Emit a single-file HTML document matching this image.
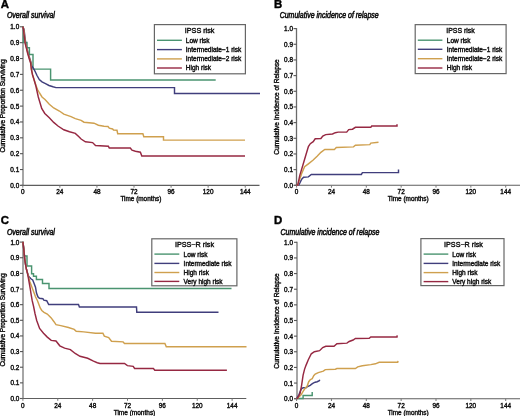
<!DOCTYPE html>
<html><head><meta charset="utf-8"><style>
html,body{margin:0;padding:0;background:#fff;overflow:hidden;}
svg{display:block;font-family:"Liberation Sans", sans-serif;}
#w{will-change:transform;width:520px;height:416px;overflow:hidden;}

</style></head><body>
<div id="w"><svg width="520" height="416" viewBox="0 0 520 416">
<rect width="520" height="416" fill="#fff"/>
<text x="0.7" y="8.1" font-size="11.4" text-anchor="start" font-weight="bold" font-style="normal" fill="#000" stroke="#000" stroke-width="0.4" >A</text>
<text x="6.9" y="18" font-size="8.3" text-anchor="start" font-weight="normal" font-style="italic" fill="#111" stroke="#111" stroke-width="0.55" textLength="48" lengthAdjust="spacingAndGlyphs">Overall survival</text>
<line x1="23.0" y1="26.3" x2="23.0" y2="185.4" stroke="#a6a6a6" stroke-width="2"/>
<line x1="20.0" y1="185.40" x2="23.0" y2="185.40" stroke="#555" stroke-width="1.1"/>
<text x="19.2" y="188" font-size="6.4" text-anchor="end" font-weight="normal" font-style="normal" fill="#111" stroke="#111" stroke-width="0.4" >0.0</text>
<line x1="20.0" y1="169.54" x2="23.0" y2="169.54" stroke="#555" stroke-width="1.1"/>
<text x="19.2" y="172" font-size="6.4" text-anchor="end" font-weight="normal" font-style="normal" fill="#111" stroke="#111" stroke-width="0.4" >0.1</text>
<line x1="20.0" y1="153.68" x2="23.0" y2="153.68" stroke="#555" stroke-width="1.1"/>
<text x="19.2" y="156" font-size="6.4" text-anchor="end" font-weight="normal" font-style="normal" fill="#111" stroke="#111" stroke-width="0.4" >0.2</text>
<line x1="20.0" y1="137.82" x2="23.0" y2="137.82" stroke="#555" stroke-width="1.1"/>
<text x="19.2" y="140" font-size="6.4" text-anchor="end" font-weight="normal" font-style="normal" fill="#111" stroke="#111" stroke-width="0.4" >0.3</text>
<line x1="20.0" y1="121.96" x2="23.0" y2="121.96" stroke="#555" stroke-width="1.1"/>
<text x="19.2" y="124" font-size="6.4" text-anchor="end" font-weight="normal" font-style="normal" fill="#111" stroke="#111" stroke-width="0.4" >0.4</text>
<line x1="20.0" y1="106.10" x2="23.0" y2="106.10" stroke="#555" stroke-width="1.1"/>
<text x="19.2" y="109" font-size="6.4" text-anchor="end" font-weight="normal" font-style="normal" fill="#111" stroke="#111" stroke-width="0.4" >0.5</text>
<line x1="20.0" y1="90.24" x2="23.0" y2="90.24" stroke="#555" stroke-width="1.1"/>
<text x="19.2" y="93" font-size="6.4" text-anchor="end" font-weight="normal" font-style="normal" fill="#111" stroke="#111" stroke-width="0.4" >0.6</text>
<line x1="20.0" y1="74.38" x2="23.0" y2="74.38" stroke="#555" stroke-width="1.1"/>
<text x="19.2" y="77" font-size="6.4" text-anchor="end" font-weight="normal" font-style="normal" fill="#111" stroke="#111" stroke-width="0.4" >0.7</text>
<line x1="20.0" y1="58.52" x2="23.0" y2="58.52" stroke="#555" stroke-width="1.1"/>
<text x="19.2" y="61" font-size="6.4" text-anchor="end" font-weight="normal" font-style="normal" fill="#111" stroke="#111" stroke-width="0.4" >0.8</text>
<line x1="20.0" y1="42.66" x2="23.0" y2="42.66" stroke="#555" stroke-width="1.1"/>
<text x="19.2" y="45" font-size="6.4" text-anchor="end" font-weight="normal" font-style="normal" fill="#111" stroke="#111" stroke-width="0.4" >0.9</text>
<line x1="20.0" y1="26.80" x2="23.0" y2="26.80" stroke="#555" stroke-width="1.1"/>
<text x="19.2" y="29" font-size="6.4" text-anchor="end" font-weight="normal" font-style="normal" fill="#111" stroke="#111" stroke-width="0.4" >1.0</text>
<line x1="20.5" y1="185.4" x2="259.5" y2="185.4" stroke="#5e5e5e" stroke-width="1.1"/>
<line x1="22.80" y1="185.4" x2="22.80" y2="187.70000000000002" stroke="#777" stroke-width="1"/>
<text x="22.8" y="194" font-size="6.4" text-anchor="middle" font-weight="normal" font-style="normal" fill="#111" stroke="#111" stroke-width="0.4" >0</text>
<line x1="59.87" y1="185.4" x2="59.87" y2="187.70000000000002" stroke="#777" stroke-width="1"/>
<text x="59.87" y="194" font-size="6.4" text-anchor="middle" font-weight="normal" font-style="normal" fill="#111" stroke="#111" stroke-width="0.4" >24</text>
<line x1="96.94" y1="185.4" x2="96.94" y2="187.70000000000002" stroke="#777" stroke-width="1"/>
<text x="96.94" y="194" font-size="6.4" text-anchor="middle" font-weight="normal" font-style="normal" fill="#111" stroke="#111" stroke-width="0.4" >48</text>
<line x1="134.01" y1="185.4" x2="134.01" y2="187.70000000000002" stroke="#777" stroke-width="1"/>
<text x="134.01" y="194" font-size="6.4" text-anchor="middle" font-weight="normal" font-style="normal" fill="#111" stroke="#111" stroke-width="0.4" >72</text>
<line x1="171.08" y1="185.4" x2="171.08" y2="187.70000000000002" stroke="#777" stroke-width="1"/>
<text x="171.08" y="194" font-size="6.4" text-anchor="middle" font-weight="normal" font-style="normal" fill="#111" stroke="#111" stroke-width="0.4" >96</text>
<line x1="208.15" y1="185.4" x2="208.15" y2="187.70000000000002" stroke="#777" stroke-width="1"/>
<text x="208.15" y="194" font-size="6.4" text-anchor="middle" font-weight="normal" font-style="normal" fill="#111" stroke="#111" stroke-width="0.4" >120</text>
<line x1="245.22" y1="185.4" x2="245.22" y2="187.70000000000002" stroke="#777" stroke-width="1"/>
<text x="245.22" y="194" font-size="6.4" text-anchor="middle" font-weight="normal" font-style="normal" fill="#111" stroke="#111" stroke-width="0.4" >144</text>
<text x="120.4" y="200.6" font-size="6.5" text-anchor="start" font-weight="normal" font-style="normal" fill="#111" stroke="#111" stroke-width="0.4" textLength="41" lengthAdjust="spacingAndGlyphs">Time (months)</text>
<text transform="translate(5.2,106.0) rotate(-90)" x="0" y="0" font-size="6.5" font-weight="normal" text-anchor="middle" fill="#111" stroke="#111" stroke-width="0.4" textLength="93.2" lengthAdjust="spacingAndGlyphs">Cumulative Proportion Surviving</text>
<path d="M22.8,26.7 L23.3,27.6 V42.4 H27 V47.8 H29.4 V54.4 H33 V69.1 H50.6 V80.0 H215.7" fill="none" stroke="#4a9470" stroke-width="1.45"/>
<polyline points="22.80,26.70 24.00,29.20 24.60,34.00 25.20,38.80 25.80,43.60 27.00,48.40 28.20,53.20 30.00,59.20 31.20,63.00 31.60,65.50 32.60,67.20 34.20,69.60 35.50,72.20 37.00,75.50 39.30,79.50 42.00,81.80 45.50,83.60 49.00,85.50 53.00,86.80 56.00,87.60 174.50,87.60 174.50,93.50 260.00,93.50" fill="none" stroke="#403e7c" stroke-width="1.45" stroke-linejoin="miter" stroke-linecap="butt"/>
<polyline points="22.80,26.70 23.70,29.20 24.30,34.00 24.90,38.80 25.50,43.60 26.70,48.40 27.90,53.20 29.70,59.20 30.90,63.00 31.40,69.50 32.60,75.00 34.00,79.50 36.20,86.00 37.50,89.50 39.50,93.00 42.00,97.00 45.00,99.50 49.30,104.20 53.70,108.00 59.40,111.00 63.80,114.20 71.00,116.60 75.30,118.60 81.10,120.30 84.00,122.20 94.00,123.20 98.40,125.20 104.00,126.20 108.00,126.50 109.30,128.20 112.60,129.00 113.50,130.00 117.00,130.30 117.70,133.70 142.90,133.70 143.80,136.70 163.50,136.70 163.50,140.10 245.00,140.10" fill="none" stroke="#cfa04e" stroke-width="1.45" stroke-linejoin="miter" stroke-linecap="butt"/>
<polyline points="22.80,26.70 23.40,29.20 24.00,34.00 24.60,38.80 25.20,43.60 26.40,48.40 27.60,53.20 29.40,59.20 30.60,63.00 31.40,69.50 32.60,75.00 34.00,79.50 36.00,86.50 38.30,97.00 41.70,108.50 44.80,113.50 49.30,117.80 53.70,122.40 58.00,126.00 63.80,129.80 69.50,131.80 75.30,133.40 78.90,136.80 81.10,139.00 85.40,141.80 92.60,142.60 95.50,145.50 108.40,146.30 109.30,148.00 130.30,148.00 132.00,150.20 135.40,151.30 140.40,152.20 141.80,156.00 245.00,156.00" fill="none" stroke="#962842" stroke-width="1.45" stroke-linejoin="miter" stroke-linecap="butt"/>
<rect x="154.4" y="24.6" width="91.0" height="49.199999999999996" fill="#fff" stroke="#666" stroke-width="1.2"/>
<text x="184.8" y="33" font-size="7.1" text-anchor="start" font-weight="normal" font-style="normal" fill="#111" stroke="#111" stroke-width="0.4" textLength="29.6" lengthAdjust="spacingAndGlyphs">IPSS risk</text>
<line x1="157.0" y1="40.3" x2="181.9" y2="40.3" stroke="#4a9470" stroke-width="1.4"/>
<text x="185.8" y="43" font-size="6.5" text-anchor="start" font-weight="normal" font-style="normal" fill="#111" stroke="#111" stroke-width="0.4" textLength="23.8" lengthAdjust="spacingAndGlyphs">Low risk</text>
<line x1="157.0" y1="49.6" x2="181.9" y2="49.6" stroke="#403e7c" stroke-width="1.4"/>
<text x="185.8" y="52" font-size="6.5" text-anchor="start" font-weight="normal" font-style="normal" fill="#111" stroke="#111" stroke-width="0.4" textLength="55.5" lengthAdjust="spacingAndGlyphs">Intermediate−1 risk</text>
<line x1="157.0" y1="58.9" x2="181.9" y2="58.9" stroke="#cfa04e" stroke-width="1.4"/>
<text x="185.8" y="61" font-size="6.5" text-anchor="start" font-weight="normal" font-style="normal" fill="#111" stroke="#111" stroke-width="0.4" textLength="55.5" lengthAdjust="spacingAndGlyphs">Intermediate−2 risk</text>
<line x1="157.0" y1="68.0" x2="181.9" y2="68.0" stroke="#962842" stroke-width="1.4"/>
<text x="185.8" y="70" font-size="6.5" text-anchor="start" font-weight="normal" font-style="normal" fill="#111" stroke="#111" stroke-width="0.4" textLength="25.3" lengthAdjust="spacingAndGlyphs">High risk</text>
<text x="274.0" y="8.3" font-size="11.4" text-anchor="start" font-weight="bold" font-style="normal" fill="#000" stroke="#000" stroke-width="0.4" >B</text>
<text x="279.7" y="18" font-size="8.3" text-anchor="start" font-weight="normal" font-style="italic" fill="#111" stroke="#111" stroke-width="0.55" textLength="99" lengthAdjust="spacingAndGlyphs">Cumulative incidence of relapse</text>
<line x1="296.5" y1="28.1" x2="296.5" y2="185.3" stroke="#6a6a6a" stroke-width="1.3"/>
<line x1="293.5" y1="185.30" x2="296.5" y2="185.30" stroke="#555" stroke-width="1.1"/>
<text x="293.0" y="188" font-size="6.4" text-anchor="end" font-weight="normal" font-style="normal" fill="#111" stroke="#111" stroke-width="0.4" >0.0</text>
<line x1="293.5" y1="169.63" x2="296.5" y2="169.63" stroke="#555" stroke-width="1.1"/>
<text x="293.0" y="172" font-size="6.4" text-anchor="end" font-weight="normal" font-style="normal" fill="#111" stroke="#111" stroke-width="0.4" >0.1</text>
<line x1="293.5" y1="153.96" x2="296.5" y2="153.96" stroke="#555" stroke-width="1.1"/>
<text x="293.0" y="156" font-size="6.4" text-anchor="end" font-weight="normal" font-style="normal" fill="#111" stroke="#111" stroke-width="0.4" >0.2</text>
<line x1="293.5" y1="138.29" x2="296.5" y2="138.29" stroke="#555" stroke-width="1.1"/>
<text x="293.0" y="141" font-size="6.4" text-anchor="end" font-weight="normal" font-style="normal" fill="#111" stroke="#111" stroke-width="0.4" >0.3</text>
<line x1="293.5" y1="122.62" x2="296.5" y2="122.62" stroke="#555" stroke-width="1.1"/>
<text x="293.0" y="125" font-size="6.4" text-anchor="end" font-weight="normal" font-style="normal" fill="#111" stroke="#111" stroke-width="0.4" >0.4</text>
<line x1="293.5" y1="106.95" x2="296.5" y2="106.95" stroke="#555" stroke-width="1.1"/>
<text x="293.0" y="109" font-size="6.4" text-anchor="end" font-weight="normal" font-style="normal" fill="#111" stroke="#111" stroke-width="0.4" >0.5</text>
<line x1="293.5" y1="91.28" x2="296.5" y2="91.28" stroke="#555" stroke-width="1.1"/>
<text x="293.0" y="94" font-size="6.4" text-anchor="end" font-weight="normal" font-style="normal" fill="#111" stroke="#111" stroke-width="0.4" >0.6</text>
<line x1="293.5" y1="75.61" x2="296.5" y2="75.61" stroke="#555" stroke-width="1.1"/>
<text x="293.0" y="78" font-size="6.4" text-anchor="end" font-weight="normal" font-style="normal" fill="#111" stroke="#111" stroke-width="0.4" >0.7</text>
<line x1="293.5" y1="59.94" x2="296.5" y2="59.94" stroke="#555" stroke-width="1.1"/>
<text x="293.0" y="62" font-size="6.4" text-anchor="end" font-weight="normal" font-style="normal" fill="#111" stroke="#111" stroke-width="0.4" >0.8</text>
<line x1="293.5" y1="44.27" x2="296.5" y2="44.27" stroke="#555" stroke-width="1.1"/>
<text x="293.0" y="47" font-size="6.4" text-anchor="end" font-weight="normal" font-style="normal" fill="#111" stroke="#111" stroke-width="0.4" >0.9</text>
<line x1="293.5" y1="28.60" x2="296.5" y2="28.60" stroke="#555" stroke-width="1.1"/>
<text x="293.0" y="31" font-size="6.4" text-anchor="end" font-weight="normal" font-style="normal" fill="#111" stroke="#111" stroke-width="0.4" >1.0</text>
<line x1="294.3" y1="185.3" x2="520" y2="185.3" stroke="#5e5e5e" stroke-width="1.1"/>
<line x1="296.60" y1="185.3" x2="296.60" y2="187.60000000000002" stroke="#777" stroke-width="1"/>
<text x="296.6" y="194" font-size="6.4" text-anchor="middle" font-weight="normal" font-style="normal" fill="#111" stroke="#111" stroke-width="0.4" >0</text>
<line x1="331.45" y1="185.3" x2="331.45" y2="187.60000000000002" stroke="#777" stroke-width="1"/>
<text x="331.45" y="194" font-size="6.4" text-anchor="middle" font-weight="normal" font-style="normal" fill="#111" stroke="#111" stroke-width="0.4" >24</text>
<line x1="366.30" y1="185.3" x2="366.30" y2="187.60000000000002" stroke="#777" stroke-width="1"/>
<text x="366.3" y="194" font-size="6.4" text-anchor="middle" font-weight="normal" font-style="normal" fill="#111" stroke="#111" stroke-width="0.4" >48</text>
<line x1="401.15" y1="185.3" x2="401.15" y2="187.60000000000002" stroke="#777" stroke-width="1"/>
<text x="401.15" y="194" font-size="6.4" text-anchor="middle" font-weight="normal" font-style="normal" fill="#111" stroke="#111" stroke-width="0.4" >72</text>
<line x1="436.00" y1="185.3" x2="436.00" y2="187.60000000000002" stroke="#777" stroke-width="1"/>
<text x="436.0" y="194" font-size="6.4" text-anchor="middle" font-weight="normal" font-style="normal" fill="#111" stroke="#111" stroke-width="0.4" >96</text>
<line x1="470.85" y1="185.3" x2="470.85" y2="187.60000000000002" stroke="#777" stroke-width="1"/>
<text x="470.85" y="194" font-size="6.4" text-anchor="middle" font-weight="normal" font-style="normal" fill="#111" stroke="#111" stroke-width="0.4" >120</text>
<line x1="505.70" y1="185.3" x2="505.70" y2="187.60000000000002" stroke="#777" stroke-width="1"/>
<text x="505.7" y="194" font-size="6.4" text-anchor="middle" font-weight="normal" font-style="normal" fill="#111" stroke="#111" stroke-width="0.4" >144</text>
<text x="387.7" y="200.6" font-size="6.5" text-anchor="start" font-weight="normal" font-style="normal" fill="#111" stroke="#111" stroke-width="0.4" textLength="41" lengthAdjust="spacingAndGlyphs">Time (months)</text>
<text transform="translate(278.9,107.0) rotate(-90)" x="0" y="0" font-size="6.5" font-weight="normal" text-anchor="middle" fill="#111" stroke="#111" stroke-width="0.4" textLength="95.3" lengthAdjust="spacingAndGlyphs">Cumulative Incidence of Relapse</text>
<polyline points="296.60,185.30 298.80,185.00 301.70,179.20 303.60,177.30 308.40,176.90 311.30,174.40 361.40,174.40 362.40,172.60 398.50,172.60 398.50,169.50" fill="none" stroke="#403e7c" stroke-width="1.45" stroke-linejoin="miter" stroke-linecap="butt"/>
<polyline points="296.60,185.30 297.80,185.00 301.70,173.50 304.60,166.70 308.40,163.80 313.20,160.00 317.10,156.20 320.90,152.30 324.80,149.40 334.40,149.40 336.30,147.50 353.50,146.90 355.40,145.20 369.80,144.60 370.80,143.10 378.50,142.30" fill="none" stroke="#cfa04e" stroke-width="1.45" stroke-linejoin="miter" stroke-linecap="butt"/>
<polyline points="296.60,185.30 297.80,185.00 299.80,175.40 302.70,165.80 305.50,156.20 308.40,146.50 310.30,143.70 313.20,141.70 315.20,138.80 320.90,138.50 322.80,136.00 325.70,134.60 332.50,134.00 335.30,132.70 338.20,132.10 346.70,132.10 348.70,129.60 352.50,129.20 355.40,127.30 370.80,127.30 371.70,126.00 397.00,126.00 397.00,124.30" fill="none" stroke="#962842" stroke-width="1.45" stroke-linejoin="miter" stroke-linecap="butt"/>
<rect x="415.2" y="24.65" width="90.90000000000003" height="48.949999999999996" fill="#fff" stroke="#666" stroke-width="1.2"/>
<text x="446.3" y="33" font-size="7.1" text-anchor="start" font-weight="normal" font-style="normal" fill="#111" stroke="#111" stroke-width="0.4" textLength="28.5" lengthAdjust="spacingAndGlyphs">IPSS risk</text>
<line x1="417.8" y1="40.2" x2="442.4" y2="40.2" stroke="#4a9470" stroke-width="1.4"/>
<text x="446.8" y="43" font-size="6.5" text-anchor="start" font-weight="normal" font-style="normal" fill="#111" stroke="#111" stroke-width="0.4" textLength="23.8" lengthAdjust="spacingAndGlyphs">Low risk</text>
<line x1="417.8" y1="49.3" x2="442.4" y2="49.3" stroke="#403e7c" stroke-width="1.4"/>
<text x="446.8" y="52" font-size="6.5" text-anchor="start" font-weight="normal" font-style="normal" fill="#111" stroke="#111" stroke-width="0.4" textLength="55.5" lengthAdjust="spacingAndGlyphs">Intermediate−1 risk</text>
<line x1="417.8" y1="58.7" x2="442.4" y2="58.7" stroke="#cfa04e" stroke-width="1.4"/>
<text x="446.8" y="61" font-size="6.5" text-anchor="start" font-weight="normal" font-style="normal" fill="#111" stroke="#111" stroke-width="0.4" textLength="55.5" lengthAdjust="spacingAndGlyphs">Intermediate−2 risk</text>
<line x1="417.8" y1="68.0" x2="442.4" y2="68.0" stroke="#962842" stroke-width="1.4"/>
<text x="446.8" y="70" font-size="6.5" text-anchor="start" font-weight="normal" font-style="normal" fill="#111" stroke="#111" stroke-width="0.4" textLength="25.3" lengthAdjust="spacingAndGlyphs">High risk</text>
<text x="0.7" y="224.3" font-size="11.4" text-anchor="start" font-weight="bold" font-style="normal" fill="#000" stroke="#000" stroke-width="0.4" >C</text>
<text x="6.9" y="235" font-size="8.3" text-anchor="start" font-weight="normal" font-style="italic" fill="#111" stroke="#111" stroke-width="0.55" textLength="48" lengthAdjust="spacingAndGlyphs">Overall survival</text>
<line x1="23.0" y1="241.6" x2="23.0" y2="398.5" stroke="#a6a6a6" stroke-width="2"/>
<line x1="20.0" y1="398.50" x2="23.0" y2="398.50" stroke="#555" stroke-width="1.1"/>
<text x="19.299999999999997" y="401" font-size="6.4" text-anchor="end" font-weight="normal" font-style="normal" fill="#111" stroke="#111" stroke-width="0.4" >0.0</text>
<line x1="20.0" y1="382.86" x2="23.0" y2="382.86" stroke="#555" stroke-width="1.1"/>
<text x="19.299999999999997" y="385" font-size="6.4" text-anchor="end" font-weight="normal" font-style="normal" fill="#111" stroke="#111" stroke-width="0.4" >0.1</text>
<line x1="20.0" y1="367.22" x2="23.0" y2="367.22" stroke="#555" stroke-width="1.1"/>
<text x="19.299999999999997" y="370" font-size="6.4" text-anchor="end" font-weight="normal" font-style="normal" fill="#111" stroke="#111" stroke-width="0.4" >0.2</text>
<line x1="20.0" y1="351.58" x2="23.0" y2="351.58" stroke="#555" stroke-width="1.1"/>
<text x="19.299999999999997" y="354" font-size="6.4" text-anchor="end" font-weight="normal" font-style="normal" fill="#111" stroke="#111" stroke-width="0.4" >0.3</text>
<line x1="20.0" y1="335.94" x2="23.0" y2="335.94" stroke="#555" stroke-width="1.1"/>
<text x="19.299999999999997" y="338" font-size="6.4" text-anchor="end" font-weight="normal" font-style="normal" fill="#111" stroke="#111" stroke-width="0.4" >0.4</text>
<line x1="20.0" y1="320.30" x2="23.0" y2="320.30" stroke="#555" stroke-width="1.1"/>
<text x="19.299999999999997" y="323" font-size="6.4" text-anchor="end" font-weight="normal" font-style="normal" fill="#111" stroke="#111" stroke-width="0.4" >0.5</text>
<line x1="20.0" y1="304.66" x2="23.0" y2="304.66" stroke="#555" stroke-width="1.1"/>
<text x="19.299999999999997" y="307" font-size="6.4" text-anchor="end" font-weight="normal" font-style="normal" fill="#111" stroke="#111" stroke-width="0.4" >0.6</text>
<line x1="20.0" y1="289.02" x2="23.0" y2="289.02" stroke="#555" stroke-width="1.1"/>
<text x="19.299999999999997" y="292" font-size="6.4" text-anchor="end" font-weight="normal" font-style="normal" fill="#111" stroke="#111" stroke-width="0.4" >0.7</text>
<line x1="20.0" y1="273.38" x2="23.0" y2="273.38" stroke="#555" stroke-width="1.1"/>
<text x="19.299999999999997" y="276" font-size="6.4" text-anchor="end" font-weight="normal" font-style="normal" fill="#111" stroke="#111" stroke-width="0.4" >0.8</text>
<line x1="20.0" y1="257.74" x2="23.0" y2="257.74" stroke="#555" stroke-width="1.1"/>
<text x="19.299999999999997" y="260" font-size="6.4" text-anchor="end" font-weight="normal" font-style="normal" fill="#111" stroke="#111" stroke-width="0.4" >0.9</text>
<line x1="20.0" y1="242.10" x2="23.0" y2="242.10" stroke="#555" stroke-width="1.1"/>
<text x="19.299999999999997" y="245" font-size="6.4" text-anchor="end" font-weight="normal" font-style="normal" fill="#111" stroke="#111" stroke-width="0.4" >1.0</text>
<line x1="20.599999999999998" y1="398.5" x2="246.3" y2="398.5" stroke="#5e5e5e" stroke-width="1.1"/>
<line x1="22.90" y1="398.5" x2="22.90" y2="400.8" stroke="#777" stroke-width="1"/>
<text x="22.9" y="408" font-size="6.4" text-anchor="middle" font-weight="normal" font-style="normal" fill="#111" stroke="#111" stroke-width="0.4" >0</text>
<line x1="57.77" y1="398.5" x2="57.77" y2="400.8" stroke="#777" stroke-width="1"/>
<text x="57.77" y="408" font-size="6.4" text-anchor="middle" font-weight="normal" font-style="normal" fill="#111" stroke="#111" stroke-width="0.4" >24</text>
<line x1="92.64" y1="398.5" x2="92.64" y2="400.8" stroke="#777" stroke-width="1"/>
<text x="92.64" y="408" font-size="6.4" text-anchor="middle" font-weight="normal" font-style="normal" fill="#111" stroke="#111" stroke-width="0.4" >48</text>
<line x1="127.51" y1="398.5" x2="127.51" y2="400.8" stroke="#777" stroke-width="1"/>
<text x="127.51" y="408" font-size="6.4" text-anchor="middle" font-weight="normal" font-style="normal" fill="#111" stroke="#111" stroke-width="0.4" >72</text>
<line x1="162.38" y1="398.5" x2="162.38" y2="400.8" stroke="#777" stroke-width="1"/>
<text x="162.38" y="408" font-size="6.4" text-anchor="middle" font-weight="normal" font-style="normal" fill="#111" stroke="#111" stroke-width="0.4" >96</text>
<line x1="197.25" y1="398.5" x2="197.25" y2="400.8" stroke="#777" stroke-width="1"/>
<text x="197.25" y="408" font-size="6.4" text-anchor="middle" font-weight="normal" font-style="normal" fill="#111" stroke="#111" stroke-width="0.4" >120</text>
<line x1="232.12" y1="398.5" x2="232.12" y2="400.8" stroke="#777" stroke-width="1"/>
<text x="232.12" y="408" font-size="6.4" text-anchor="middle" font-weight="normal" font-style="normal" fill="#111" stroke="#111" stroke-width="0.4" >144</text>
<text x="113.7" y="414.6" font-size="6.5" text-anchor="start" font-weight="normal" font-style="normal" fill="#111" stroke="#111" stroke-width="0.4" textLength="41.6" lengthAdjust="spacingAndGlyphs">Time (months)</text>
<text transform="translate(5.2,320.0) rotate(-90)" x="0" y="0" font-size="6.5" font-weight="normal" text-anchor="middle" fill="#111" stroke="#111" stroke-width="0.4" textLength="93.2" lengthAdjust="spacingAndGlyphs">Cumulative Proportion Surviving</text>
<path d="M22.9,241.9 L23.6,247.6 L24.2,253.6 L24.6,256 H27 V266 H31.6 V273.8 H33.5 V276.3 H36.4 V279.4 H42.5 V283.5 H49 V288.4 H231.5" fill="none" stroke="#4a9470" stroke-width="1.45"/>
<polyline points="22.90,241.90 23.60,247.60 24.20,253.60 24.80,259.60 25.60,265.00 26.40,269.00 27.40,272.80 28.50,276.00 29.80,277.60 31.20,279.00 32.70,280.00 34.10,283.40 35.50,287.20 36.50,293.00 37.90,296.80 39.40,298.30 42.90,298.70 43.80,300.10 46.70,300.70 48.70,304.50 78.50,304.50 79.40,307.00 136.50,307.00 136.80,312.20 218.50,312.20" fill="none" stroke="#403e7c" stroke-width="1.45" stroke-linejoin="miter" stroke-linecap="butt"/>
<polyline points="22.90,241.90 23.60,247.60 24.20,253.60 24.80,259.60 25.60,265.00 26.40,269.00 27.40,272.80 28.80,277.60 29.80,281.50 31.20,285.30 32.70,289.20 34.10,293.00 35.50,296.80 37.50,300.70 38.90,304.50 40.20,308.00 41.80,310.50 44.00,312.30 47.30,314.00 51.20,317.90 54.00,321.70 56.00,324.60 60.80,325.60 68.50,327.50 74.20,329.40 76.20,331.30 83.80,331.90 95.40,333.30 102.90,333.30 104.30,336.10 108.70,337.60 111.50,341.30 123.10,341.90 124.50,343.40 164.90,343.40 166.30,346.80 246.50,346.80" fill="none" stroke="#cfa04e" stroke-width="1.45" stroke-linejoin="miter" stroke-linecap="butt"/>
<polyline points="22.90,241.90 23.60,247.60 24.20,253.60 24.80,259.60 25.60,265.00 26.40,269.00 27.40,272.80 28.30,277.60 29.30,283.40 30.30,289.20 31.20,294.90 32.20,300.70 33.60,306.50 35.00,313.50 36.70,320.50 39.60,328.50 43.50,333.30 47.30,337.10 51.20,340.40 56.00,341.00 59.80,345.80 64.60,348.10 70.40,349.60 75.20,353.50 80.00,356.30 87.70,358.30 93.50,361.20 97.30,362.70 100.00,363.50 124.50,363.50 127.40,365.60 133.20,366.40 134.60,368.50 153.40,368.50 154.80,370.20 226.90,370.20" fill="none" stroke="#962842" stroke-width="1.45" stroke-linejoin="miter" stroke-linecap="butt"/>
<rect x="151.8" y="238.8" width="85.1" height="47.0" fill="#fff" stroke="#666" stroke-width="1.2"/>
<text x="174.9" y="247" font-size="7.1" text-anchor="start" font-weight="normal" font-style="normal" fill="#111" stroke="#111" stroke-width="0.4" textLength="39.1" lengthAdjust="spacingAndGlyphs">IPSS−R risk</text>
<line x1="154.4" y1="254.1" x2="179.3" y2="254.1" stroke="#4a9470" stroke-width="1.4"/>
<text x="183.6" y="257" font-size="6.5" text-anchor="start" font-weight="normal" font-style="normal" fill="#111" stroke="#111" stroke-width="0.4" textLength="23.8" lengthAdjust="spacingAndGlyphs">Low risk</text>
<line x1="154.4" y1="263.4" x2="179.3" y2="263.4" stroke="#403e7c" stroke-width="1.4"/>
<text x="183.6" y="266" font-size="6.5" text-anchor="start" font-weight="normal" font-style="normal" fill="#111" stroke="#111" stroke-width="0.4" textLength="48.0" lengthAdjust="spacingAndGlyphs">Intermediate risk</text>
<line x1="154.4" y1="272.5" x2="179.3" y2="272.5" stroke="#cfa04e" stroke-width="1.4"/>
<text x="183.6" y="275" font-size="6.5" text-anchor="start" font-weight="normal" font-style="normal" fill="#111" stroke="#111" stroke-width="0.4" textLength="25.3" lengthAdjust="spacingAndGlyphs">High risk</text>
<line x1="154.4" y1="281.4" x2="179.3" y2="281.4" stroke="#962842" stroke-width="1.4"/>
<text x="183.6" y="284" font-size="6.5" text-anchor="start" font-weight="normal" font-style="normal" fill="#111" stroke="#111" stroke-width="0.4" textLength="39.0" lengthAdjust="spacingAndGlyphs">Very high risk</text>
<text x="274.0" y="224.3" font-size="11.4" text-anchor="start" font-weight="bold" font-style="normal" fill="#000" stroke="#000" stroke-width="0.4" >D</text>
<text x="280.5" y="235" font-size="8.3" text-anchor="start" font-weight="normal" font-style="italic" fill="#111" stroke="#111" stroke-width="0.55" textLength="99" lengthAdjust="spacingAndGlyphs">Cumulative incidence of relapse</text>
<line x1="297.0" y1="241.8" x2="297.0" y2="398.7" stroke="#a6a6a6" stroke-width="2"/>
<line x1="294.0" y1="398.70" x2="297.0" y2="398.70" stroke="#555" stroke-width="1.1"/>
<text x="293.0" y="401" font-size="6.4" text-anchor="end" font-weight="normal" font-style="normal" fill="#111" stroke="#111" stroke-width="0.4" >0.0</text>
<line x1="294.0" y1="383.06" x2="297.0" y2="383.06" stroke="#555" stroke-width="1.1"/>
<text x="293.0" y="386" font-size="6.4" text-anchor="end" font-weight="normal" font-style="normal" fill="#111" stroke="#111" stroke-width="0.4" >0.1</text>
<line x1="294.0" y1="367.42" x2="297.0" y2="367.42" stroke="#555" stroke-width="1.1"/>
<text x="293.0" y="370" font-size="6.4" text-anchor="end" font-weight="normal" font-style="normal" fill="#111" stroke="#111" stroke-width="0.4" >0.2</text>
<line x1="294.0" y1="351.78" x2="297.0" y2="351.78" stroke="#555" stroke-width="1.1"/>
<text x="293.0" y="354" font-size="6.4" text-anchor="end" font-weight="normal" font-style="normal" fill="#111" stroke="#111" stroke-width="0.4" >0.3</text>
<line x1="294.0" y1="336.14" x2="297.0" y2="336.14" stroke="#555" stroke-width="1.1"/>
<text x="293.0" y="339" font-size="6.4" text-anchor="end" font-weight="normal" font-style="normal" fill="#111" stroke="#111" stroke-width="0.4" >0.4</text>
<line x1="294.0" y1="320.50" x2="297.0" y2="320.50" stroke="#555" stroke-width="1.1"/>
<text x="293.0" y="323" font-size="6.4" text-anchor="end" font-weight="normal" font-style="normal" fill="#111" stroke="#111" stroke-width="0.4" >0.5</text>
<line x1="294.0" y1="304.86" x2="297.0" y2="304.86" stroke="#555" stroke-width="1.1"/>
<text x="293.0" y="307" font-size="6.4" text-anchor="end" font-weight="normal" font-style="normal" fill="#111" stroke="#111" stroke-width="0.4" >0.6</text>
<line x1="294.0" y1="289.22" x2="297.0" y2="289.22" stroke="#555" stroke-width="1.1"/>
<text x="293.0" y="292" font-size="6.4" text-anchor="end" font-weight="normal" font-style="normal" fill="#111" stroke="#111" stroke-width="0.4" >0.7</text>
<line x1="294.0" y1="273.58" x2="297.0" y2="273.58" stroke="#555" stroke-width="1.1"/>
<text x="293.0" y="276" font-size="6.4" text-anchor="end" font-weight="normal" font-style="normal" fill="#111" stroke="#111" stroke-width="0.4" >0.8</text>
<line x1="294.0" y1="257.94" x2="297.0" y2="257.94" stroke="#555" stroke-width="1.1"/>
<text x="293.0" y="260" font-size="6.4" text-anchor="end" font-weight="normal" font-style="normal" fill="#111" stroke="#111" stroke-width="0.4" >0.9</text>
<line x1="294.0" y1="242.30" x2="297.0" y2="242.30" stroke="#555" stroke-width="1.1"/>
<text x="293.0" y="245" font-size="6.4" text-anchor="end" font-weight="normal" font-style="normal" fill="#111" stroke="#111" stroke-width="0.4" >1.0</text>
<line x1="294.3" y1="398.7" x2="520" y2="398.7" stroke="#5e5e5e" stroke-width="1.1"/>
<line x1="296.60" y1="398.7" x2="296.60" y2="401.0" stroke="#777" stroke-width="1"/>
<text x="296.6" y="408" font-size="6.4" text-anchor="middle" font-weight="normal" font-style="normal" fill="#111" stroke="#111" stroke-width="0.4" >0</text>
<line x1="331.45" y1="398.7" x2="331.45" y2="401.0" stroke="#777" stroke-width="1"/>
<text x="331.45" y="408" font-size="6.4" text-anchor="middle" font-weight="normal" font-style="normal" fill="#111" stroke="#111" stroke-width="0.4" >24</text>
<line x1="366.30" y1="398.7" x2="366.30" y2="401.0" stroke="#777" stroke-width="1"/>
<text x="366.3" y="408" font-size="6.4" text-anchor="middle" font-weight="normal" font-style="normal" fill="#111" stroke="#111" stroke-width="0.4" >48</text>
<line x1="401.15" y1="398.7" x2="401.15" y2="401.0" stroke="#777" stroke-width="1"/>
<text x="401.15" y="408" font-size="6.4" text-anchor="middle" font-weight="normal" font-style="normal" fill="#111" stroke="#111" stroke-width="0.4" >72</text>
<line x1="436.00" y1="398.7" x2="436.00" y2="401.0" stroke="#777" stroke-width="1"/>
<text x="436.0" y="408" font-size="6.4" text-anchor="middle" font-weight="normal" font-style="normal" fill="#111" stroke="#111" stroke-width="0.4" >96</text>
<line x1="470.85" y1="398.7" x2="470.85" y2="401.0" stroke="#777" stroke-width="1"/>
<text x="470.85" y="408" font-size="6.4" text-anchor="middle" font-weight="normal" font-style="normal" fill="#111" stroke="#111" stroke-width="0.4" >120</text>
<line x1="505.70" y1="398.7" x2="505.70" y2="401.0" stroke="#777" stroke-width="1"/>
<text x="505.7" y="408" font-size="6.4" text-anchor="middle" font-weight="normal" font-style="normal" fill="#111" stroke="#111" stroke-width="0.4" >144</text>
<text x="387.7" y="414.6" font-size="6.5" text-anchor="start" font-weight="normal" font-style="normal" fill="#111" stroke="#111" stroke-width="0.4" textLength="41" lengthAdjust="spacingAndGlyphs">Time (months)</text>
<text transform="translate(278.9,321.0) rotate(-90)" x="0" y="0" font-size="6.5" font-weight="normal" text-anchor="middle" fill="#111" stroke="#111" stroke-width="0.4" textLength="95.3" lengthAdjust="spacingAndGlyphs">Cumulative Incidence of Relapse</text>
<path d="M296.6,398.5 H303.1 V395.4 H312.2 V392.1" fill="none" stroke="#4a9470" stroke-width="1.45"/>
<polyline points="296.60,398.50 299.00,394.50 301.00,389.50 302.10,388.30 303.10,387.80 306.10,387.80 307.10,386.80 310.20,385.30 311.70,384.20 313.20,383.20 315.20,382.20 317.20,381.70 319.30,380.70 319.80,379.70" fill="none" stroke="#403e7c" stroke-width="1.45" stroke-linejoin="miter" stroke-linecap="butt"/>
<polyline points="296.60,398.50 297.50,398.40 301.10,394.80 303.10,391.30 305.10,388.30 307.10,386.30 308.70,381.70 310.20,379.70 312.20,378.70 313.70,375.70 315.20,374.10 318.30,372.60 323.30,371.10 325.30,369.60 335.40,369.20 336.90,368.50 355.40,368.50 357.70,366.90 362.30,365.80 370.80,364.60 375.40,363.80 379.20,362.30 397.70,362.30 398.00,360.80" fill="none" stroke="#cfa04e" stroke-width="1.45" stroke-linejoin="miter" stroke-linecap="butt"/>
<polyline points="296.60,398.50 297.50,398.40 300.10,393.30 301.60,385.30 303.10,375.20 304.60,369.10 306.10,365.10 308.20,360.00 311.30,353.80 314.40,351.70 319.60,350.70 322.70,347.60 325.80,346.30 334.00,346.30 336.90,343.80 346.90,343.10 349.20,341.50 353.10,340.00 355.40,338.50 369.20,338.20 370.80,336.90 397.00,336.90 397.20,335.40" fill="none" stroke="#962842" stroke-width="1.45" stroke-linejoin="miter" stroke-linecap="butt"/>
<rect x="420.9" y="238.6" width="83.10000000000002" height="47.00000000000003" fill="#fff" stroke="#666" stroke-width="1.2"/>
<text x="444.1" y="247" font-size="7.1" text-anchor="start" font-weight="normal" font-style="normal" fill="#111" stroke="#111" stroke-width="0.4" textLength="38.8" lengthAdjust="spacingAndGlyphs">IPSS−R risk</text>
<line x1="423.6" y1="254.1" x2="448.3" y2="254.1" stroke="#4a9470" stroke-width="1.4"/>
<text x="452.3" y="257" font-size="6.5" text-anchor="start" font-weight="normal" font-style="normal" fill="#111" stroke="#111" stroke-width="0.4" textLength="23.8" lengthAdjust="spacingAndGlyphs">Low risk</text>
<line x1="423.6" y1="263.4" x2="448.3" y2="263.4" stroke="#403e7c" stroke-width="1.4"/>
<text x="452.3" y="266" font-size="6.5" text-anchor="start" font-weight="normal" font-style="normal" fill="#111" stroke="#111" stroke-width="0.4" textLength="48.0" lengthAdjust="spacingAndGlyphs">Intermediate risk</text>
<line x1="423.6" y1="272.6" x2="448.3" y2="272.6" stroke="#cfa04e" stroke-width="1.4"/>
<text x="452.3" y="275" font-size="6.5" text-anchor="start" font-weight="normal" font-style="normal" fill="#111" stroke="#111" stroke-width="0.4" textLength="25.3" lengthAdjust="spacingAndGlyphs">High risk</text>
<line x1="423.6" y1="281.6" x2="448.3" y2="281.6" stroke="#962842" stroke-width="1.4"/>
<text x="452.3" y="284" font-size="6.5" text-anchor="start" font-weight="normal" font-style="normal" fill="#111" stroke="#111" stroke-width="0.4" textLength="39.0" lengthAdjust="spacingAndGlyphs">Very high risk</text>
</svg></div>
</body></html>
